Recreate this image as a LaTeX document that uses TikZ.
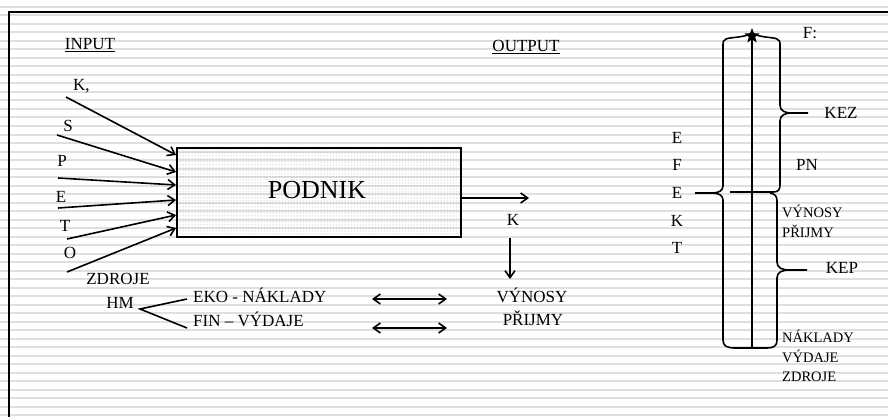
\documentclass[tikz,border=0pt]{standalone}
\usepackage{fontspec}
\setmainfont{Liberation Serif}
\usetikzlibrary{arrows.meta,shapes.geometric,patterns}
\tikzset{
  lbl/.style={inner sep=0pt,text height=11.3pt,text depth=0pt,font=\fontsize{17}{19}\selectfont},
  sml/.style={inner sep=0pt,anchor=west,text height=9.6pt,text depth=0pt,font=\fontsize{14.5}{16}\selectfont},
  ln/.style={line width=1.6pt},
  arr/.style={ln,-{Straight Barb[length=7pt,width=10pt]}},
  darr/.style={ln,{Straight Barb[length=7pt,width=10pt]}-{Straight Barb[length=7pt,width=10pt]}},
  stripe/.style={gray!25,line width=2pt},
  frame/.style={line width=2.2pt},
}
\begin{document}
\begin{tikzpicture}[x=1pt,y=-1pt]
\useasboundingbox (0,0) rectangle (888,417);
\fill[white] (0,0) rectangle (888,417);
\foreach \k in {0,...,48} \draw[stripe] (0,{7+8.5*\k}) -- (888,{7+8.5*\k});
\draw[frame] (9,420) -- (9,12) -- (890,12);

% titles
\node[lbl] (input) at (90,44) {\underline{INPUT}};
\node[lbl] (output) at (526,46) {\underline{OUTPUT}};

% box
\node[draw,line width=1.8pt,fill=gray!10,pattern=dots,pattern color=gray!70,minimum width=284pt,minimum height=89pt,inner sep=0pt] (podnik) at (319,192.5) {};
\node[inner sep=0pt,text height=17.2pt,text depth=0pt,font=\fontsize{26}{28}\selectfont] (podniktxt) at (317,190) {PODNIK};

% input letters
\node[lbl,anchor=west] (lk) at (73,85) {K,};
\node[lbl] (ls) at (68,126) {S};
\node[lbl] (lp) at (62,161) {P};
\node[lbl] (le) at (61,197) {E};
\node[lbl] (lt) at (65,226) {T};
\node[lbl] (lo) at (70,253) {O};

\coordinate (s1) at (66,97);
\coordinate (s2) at (57,135);
\coordinate (s3) at (58,178);
\coordinate (s4) at (58,208);
\coordinate (s5) at (67,239);
\coordinate (s6) at (67,272);
\draw[arr] (s1) -- ([yshift=37.5pt]podnik.west);
\draw[arr] (s2) -- ([yshift=20.5pt]podnik.west);
\draw[arr] (s3) -- ([yshift=7.5pt]podnik.west);
\draw[arr] (s4) -- ([yshift=-7.5pt]podnik.west);
\draw[arr] (s5) -- ([yshift=-22.5pt]podnik.west);
\draw[arr] (s6) -- ([yshift=-35.5pt]podnik.west);

% output
\coordinate (outend) at (529,198);
\draw[arr] ([yshift=-5.5pt]podnik.east) -- (outend);
\node[lbl] (kout) at (513,220) {K};
\coordinate (kd1) at (510,238);
\coordinate (kd2) at (510,279);
\draw[arr] (kd1) -- (kd2);

% bottom
\node[lbl] (zdroje) at (118,279) {ZDROJE};
\node[lbl] (hm) at (120,303) {HM};
\coordinate (hv) at (140,309);
\coordinate (h1) at (187,299);
\coordinate (h2) at (187,328);
\draw[ln] (h1) -- (hv) -- (h2);
\node[lbl,anchor=west] (eko) at (193,297) {EKO - NÁKLADY};
\node[lbl,anchor=west] (fin) at (193,321) {FIN – VÝDAJE};
\coordinate (d1a) at (372,299);
\coordinate (d1b) at (447,299);
\coordinate (d2a) at (372,328);
\coordinate (d2b) at (447,328);
\draw[darr] (d1a) -- (d1b);
\draw[darr] (d2a) -- (d2b);
\node[lbl] (vyn) at (532,297) {VÝNOSY};
\node[lbl] (pri) at (533,320) {PŘIJMY};

% right pipe
\coordinate (bot) at (752,348);
\draw[ln] (752,34) -- (bot);
% left big brace with top and bottom
\draw[ln] (752,33) .. controls (744,38) and (730,37) .. (726,39)
  .. controls (723,40) and (723,42) .. (723,46) -- (723,186)
  .. controls (723,191) and (718,193) .. (712,193) -- (695,193);
\draw[ln] (712,193) .. controls (718,193) and (723,195) .. (723,200) -- (723,340)
  .. controls (723,346) and (727,348) .. (735,348) -- (766,348)
  .. controls (774,348) and (777,346) .. (777,340);
% upper right brace
\draw[ln] (752,33) .. controls (760,38) and (774,37) .. (777,39)
  .. controls (780,40) and (780,42) .. (780,46) -- (780,105)
  .. controls (780,111) and (785,113) .. (792,113) -- (808,113);
\draw[ln] (792,113) .. controls (785,113) and (780,115) .. (780,121) -- (780,185)
  .. controls (780,190) and (778,192) .. (773,192) -- (730,192);
% lower right brace
\draw[ln] (770,193) .. controls (775,194) and (777,196) .. (777,201) -- (777,262)
  .. controls (777,268) and (782,270) .. (790,270) -- (807,270);
\draw[ln] (790,270) .. controls (782,270) and (777,272) .. (777,278) -- (777,340);
\node[star,star points=5,star point ratio=2.4,fill=black,inner sep=0pt,minimum size=16pt] (star) at (752,36) {};

% right labels
\node[lbl] (f) at (810,33) {F:};
\node[lbl] (kez) at (841,113) {KEZ};
\node[lbl] (pn) at (807,165) {PN};
\node[lbl] (kep) at (842,268) {KEP};
\node[lbl] (ef1) at (677,138) {E};
\node[lbl] (ef2) at (677,165) {F};
\node[lbl] (ef3) at (677,193) {E};
\node[lbl] (ef4) at (677,221) {K};
\node[lbl] (ef5) at (677,248) {T};
\node[sml] (rv) at (782,213) {VÝNOSY};
\node[sml] (rp) at (782,233) {PŘIJMY};
\node[sml] (rn) at (782,338) {NÁKLADY};
\node[sml] (rd) at (782,358) {VÝDAJE};
\node[sml] (rz) at (782,377) {ZDROJE};
\end{tikzpicture}
\end{document}
